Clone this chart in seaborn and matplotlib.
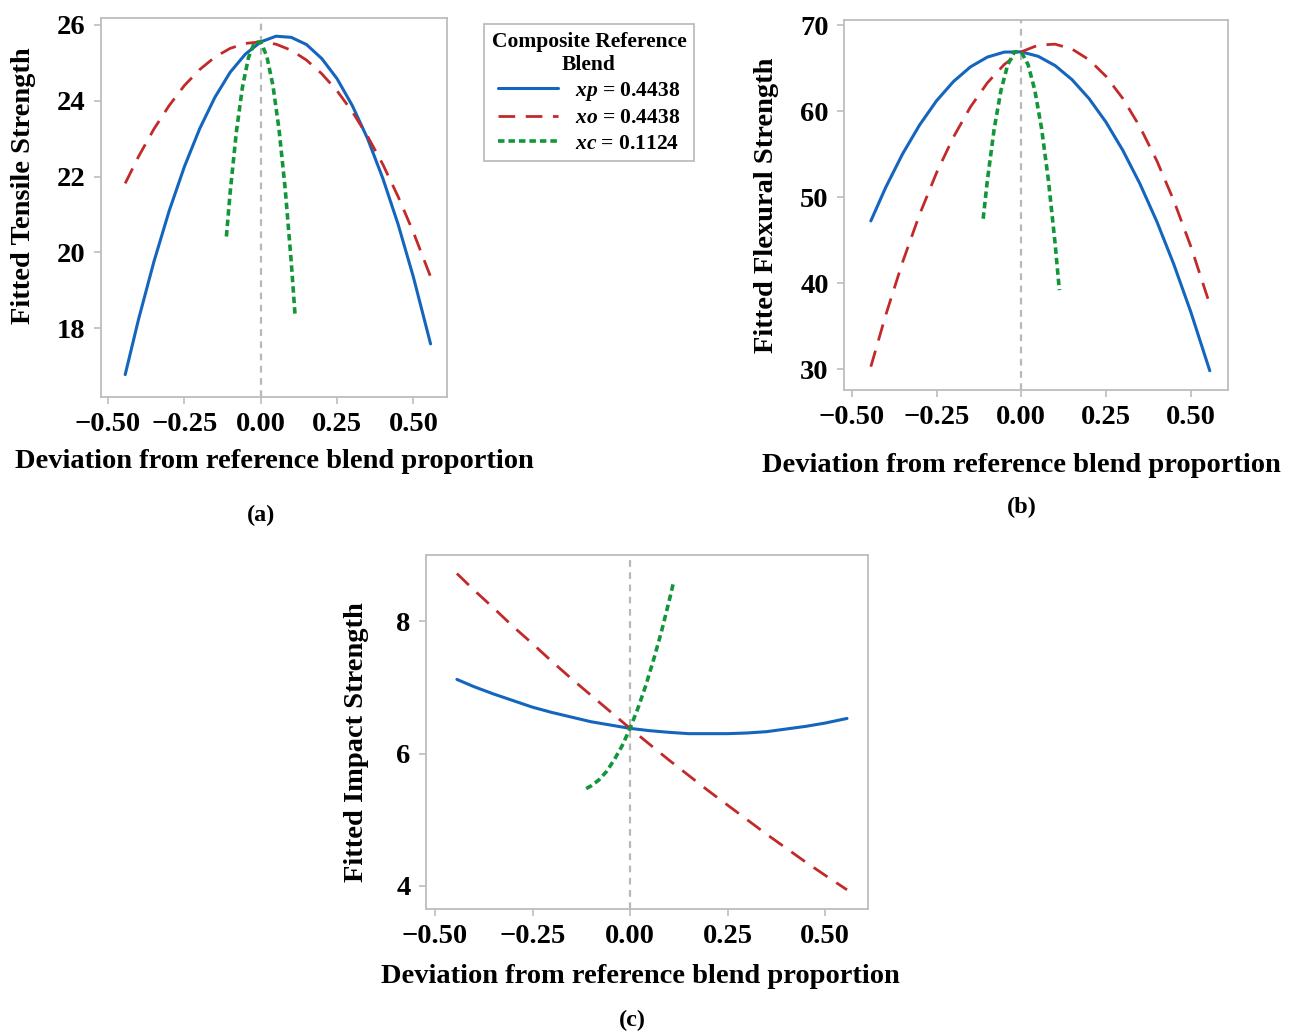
import numpy as np
import pandas as pd
import matplotlib
matplotlib.use("Agg")
import matplotlib.pyplot as plt
import seaborn as sns

# Deviation grids (composite reference blend: xp = xo = 0.4438, xc = 0.1124)
dev_main = [-0.4438, -0.40, -0.35, -0.30, -0.25, -0.20, -0.15, -0.10, -0.05, 0.00,
            0.05, 0.10, 0.15, 0.20, 0.25, 0.30, 0.35, 0.40, 0.45, 0.50, 0.5562]
dev_c = [-0.1124, -0.10, -0.08, -0.06, -0.04, -0.02, 0.00,
         0.02, 0.04, 0.06, 0.08, 0.10, 0.1124]

# (a) Fitted tensile strength
tensile_xp = [16.78, 18.24, 19.75, 21.09, 22.26, 23.26, 24.09, 24.75, 25.23, 25.55,
              25.70, 25.67, 25.48, 25.11, 24.58, 23.87, 23.00, 21.95, 20.74, 19.35, 17.59]
tensile_xo = [21.82, 22.53, 23.25, 23.87, 24.40, 24.82, 25.15, 25.38, 25.51, 25.55,
              25.49, 25.33, 25.07, 24.71, 24.26, 23.71, 23.06, 22.32, 21.47, 20.53, 19.36]
tensile_xc = [20.42, 21.59, 23.16, 24.35, 25.14, 25.54, 25.55,
              25.17, 24.40, 23.24, 21.69, 19.75, 18.35]

# (b) Fitted flexural strength
flex_xp = [47.25, 51.14, 55.05, 58.40, 61.21, 63.45, 65.15, 66.29, 66.87, 66.90,
           66.38, 65.30, 63.66, 61.47, 58.73, 55.43, 51.58, 47.18, 42.22, 36.70, 29.84]
flex_xo = [30.31, 36.29, 42.48, 48.00, 52.84, 57.00, 60.49, 63.30, 65.44, 66.90,
           67.68, 67.79, 67.22, 65.98, 64.06, 61.46, 58.19, 54.24, 49.62, 44.32, 37.56]
flex_xc = [47.50, 51.95, 57.92, 62.40, 65.39, 66.89, 66.90,
           65.42, 62.44, 57.98, 52.02, 44.57, 39.20]

# (c) Fitted impact strength
impact_xp = [7.12, 7.01, 6.90, 6.80, 6.70, 6.62, 6.55, 6.48, 6.43, 6.38,
             6.345, 6.32, 6.30, 6.30, 6.30, 6.31, 6.33, 6.37, 6.41, 6.46, 6.53]
impact_xo = [8.72, 8.47, 8.20, 7.92, 7.66, 7.39, 7.13, 6.88, 6.63, 6.38,
             6.14, 5.90, 5.67, 5.44, 5.22, 5.00, 4.78, 4.57, 4.36, 4.16, 3.94]
impact_xc = [5.47, 5.51, 5.60, 5.73, 5.91, 6.12, 6.38,
             6.68, 7.02, 7.41, 7.83, 8.30, 8.61]

labels = [r"$xp$ = 0.4438", r"$xo$ = 0.4438", r"$xc$ = 0.1124"]
x_ticks = [-0.50, -0.25, 0.00, 0.25, 0.50]
x_tick_labels = ["\u22120.50", "\u22120.25", "0.00", "0.25", "0.50"]

sns.set_style("white")
plt.rcParams["font.family"] = ["Liberation Serif", "DejaVu Serif"]
plt.rcParams["font.weight"] = "bold"
plt.rcParams["mathtext.fontset"] = "custom"
plt.rcParams["mathtext.it"] = "Liberation Serif:italic:bold"
plt.rcParams["mathtext.rm"] = "Liberation Serif:bold"
for key in ["text.color", "axes.labelcolor", "xtick.labelcolor", "ytick.labelcolor"]:
    plt.rcParams[key] = "black"

BLUE = "#1465bd"
RED = "#c22a2a"
GREEN = "#12963a"
GREY = "#bdbdbd"

fig = plt.figure(figsize=(12.98, 10.33), dpi=100)
W, H = 1298, 1033


def box(l, t, r, b):
    return [l / W, 1 - b / H, (r - l) / W, (b - t) / H]


ax_a = fig.add_axes(box(101, 18, 447, 397))
ax_b = fig.add_axes(box(844, 20, 1228, 390))
ax_c = fig.add_axes(box(426, 555, 868, 909))

panels = [
    (ax_a, tensile_xp, tensile_xo, tensile_xc, "Fitted Tensile Strength",
     (16.19, 26.18), [18, 20, 22, 24, 26]),
    (ax_b, flex_xp, flex_xo, flex_xc, "Fitted Flexural Strength",
     (27.6, 70.6), [30, 40, 50, 60, 70]),
    (ax_c, impact_xp, impact_xo, impact_xc, "Fitted Impact Strength",
     (3.65, 9.0), [4, 6, 8]),
]

for ax, yp, yo, yc, ylab, ylim, yticks in panels:
    ax.axvline(0, color="#b8b8b8", lw=1.6, ls=(0, (3, 2.5)), zorder=1)
    sns.lineplot(x=dev_main, y=yp, ax=ax, color=BLUE, lw=2.2, label=labels[0])
    sns.lineplot(x=dev_main, y=yo, ax=ax, color=RED, lw=2.0,
                 linestyle=(0, (6, 3.8)), label=labels[1])
    sns.lineplot(x=dev_c, y=yc, ax=ax, color=GREEN, lw=2.6,
                 linestyle=(0, (1.8, 1.1)), label=labels[2])
    ax.set_xlim(-0.523, 0.61)
    ax.set_ylim(*ylim)
    ax.set_xticks(x_ticks)
    ax.set_xticklabels(x_tick_labels)
    ax.set_yticks(yticks)
    ax.tick_params(axis="both", which="both", direction="out", length=5, width=1.2,
                   color=GREY, labelcolor="black", labelsize=20.5, pad=6,
                   left=True, bottom=True)
    for sp in ax.spines.values():
        sp.set_color(GREY)
        sp.set_linewidth(1.3)
    ax.set_ylabel(ylab, fontsize=20.5, fontweight="bold", color="black")
    ax.set_xlabel("Deviation from reference blend proportion", fontsize=20.5,
                  fontweight="bold", color="black")
    ax.xaxis.label.set_va("center")
    ax.yaxis.label.set_va("center")
    ax.get_legend().remove()

ax_a.yaxis.set_label_coords(-0.225, 0.557)
ax_a.xaxis.set_label_coords(0.5, -0.171)
ax_b.yaxis.set_label_coords(-0.203, 0.5)
ax_b.xaxis.set_label_coords(0.461, -0.203)
ax_c.yaxis.set_label_coords(-0.158, 0.47)
ax_c.xaxis.set_label_coords(0.484, -0.192)

handles, labs = ax_a.get_legend_handles_labels()
leg = fig.legend(handles, labs, loc="upper left",
                 bbox_to_anchor=(484 / W, 1 - 24 / H), borderaxespad=0,
                 title="Composite Reference\nBlend",
                 title_fontproperties={"weight": "bold", "size": 15.5,
                                       "family": "Liberation Serif"},
                 prop={"weight": "bold", "size": 15.5, "family": "Liberation Serif"},
                 frameon=True, fancybox=False, edgecolor=GREY, framealpha=1,
                 handlelength=2.8, handletextpad=0.8, labelspacing=0.25,
                 borderpad=0.35, alignment="center")
leg.get_frame().set_linewidth(1.3)
leg.get_title().set_multialignment("center")
leg.get_title().set_color("black")

fig.text(261 / W, 1 - 515 / H, "(a)", ha="center", va="center", fontsize=17.5,
         fontweight="bold")
fig.text(1022 / W, 1 - 507 / H, "(b)", ha="center", va="center", fontsize=17.5,
         fontweight="bold")
fig.text(632 / W, 1 - 1020 / H, "(c)", ha="center", va="center", fontsize=17.5,
         fontweight="bold")

fig.savefig("out.png", dpi=100)
